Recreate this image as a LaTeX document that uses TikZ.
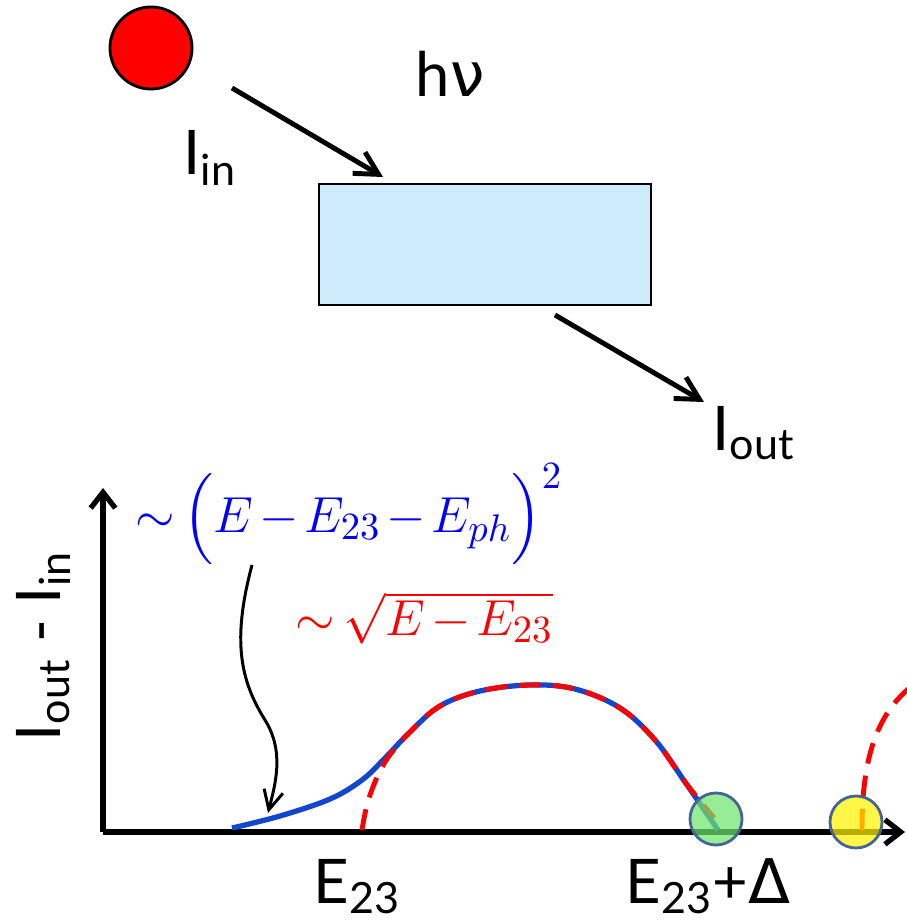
\documentclass[tikz,border=0pt]{standalone}
\usepackage{amsmath}
\usepackage{fontspec}
\setmainfont{Lato}
\newfontfamily\grk{DejaVu Sans}
\usetikzlibrary{positioning, calc, arrows.meta}
\definecolor{boxblue}{RGB}{204,236,252}
\definecolor{rimblue}{RGB}{70,100,150}
\definecolor{curveblue}{RGB}{20,70,205}
\definecolor{spotgreen}{RGB}{110,230,110}
\newcommand{\tight}{\medmuskip=2mu\relax\thickmuskip=3mu\relax}
\tikzset{
  beam/.style={line width=1.4pt, -{Straight Barb[length=6.5pt,width=7pt]}},
  axis/.style={line width=1.5pt, -{Straight Barb[length=4.5pt,width=7pt]}},
  lbl/.style={font=\fontsize{17.5}{20}\selectfont, inner sep=0pt, anchor=base west},
  law/.style={font=\fontsize{15}{18}\selectfont, inner sep=0pt, anchor=base west},
  spot/.style={circle, draw=rimblue, line width=0.8pt, fill opacity=0.72, minimum size=0.52cm, inner sep=0pt},
}
\begin{document}
\begin{tikzpicture}[x=0.01cm, y=-0.01cm]
    \useasboundingbox (0,0) rectangle (907,922);
    %sorgente e campione
    \node[circle, draw, line width=0.8pt, fill=red, minimum size=0.82cm, inner sep=0pt] (src) at (151,48) {};
    \node[draw, line width=0.6pt, fill=boxblue, minimum width=3.32cm, minimum height=1.21cm, inner sep=0pt] (sample) at (485,244.5) {};
    %fasci
    \coordinate (inA) at (232,88);
    \coordinate (inB) at (383,177);
    \coordinate (outA) at (555,315);
    \coordinate (outB) at (704,402);
    \draw[beam] (inA) -- (inB);
    \draw[beam] (outA) -- (outB);
    %etichette in alto
    \node[lbl] (hv) at (415,97) {h{\grk ν}};
    \node[lbl] (Iin) at (183,175) {I$_\text{in}$};
    \node[lbl] (Iout) at (712,450) {I$_\text{out}$};
    %assi
    \coordinate (O) at (103,832);
    \coordinate (xtip) at (905,832);
    \coordinate (ytip) at (103,488);
    \draw[axis] (O) -- (xtip);
    \draw[axis] (O) -- (ytip);
    \node[lbl, rotate=90] (ylab) at (60,742) {I$_\text{out}$ - I$_\text{in}$};
    \node[lbl] (E23) at (313,903) {E$_\text{23}$};
    \node[lbl] (E23D) at (625,903) {E$_\text{23}$+{\grk Δ}};
    %curve
    \draw[curveblue, line width=1.5pt] plot[smooth, tension=0.6] coordinates {(232,828) (280,816) (330,799) (362,780) (385,758) (410,732) (440,706) (480,691) (530,685) (575,689) (620,708) (655,740) (685,782) (718,830)};
    \draw[red, line width=1.4pt, dash pattern=on 6pt off 3.5pt] plot[smooth, tension=0.6] coordinates {(362,830) (369,798) (385,762) (410,732) (440,706) (480,691) (530,685) (575,689) (620,708) (655,740) (685,782) (714,818)};
    \draw[red, line width=1.4pt, dash pattern=on 6pt off 3.5pt] (862,830) .. controls (862,780) and (868,720) .. (912,686);
    %formule
    \node[law, text=blue] (lawBlue) at (135,532) {$\tight\sim\Bigl(E-E_{23}-E_{ph}\Bigr)^{2}$};
    \node[law, text=red] (lawRed) at (295,635) {$\tight\sim\sqrt{E-E_{23}}$};
    \coordinate (wigA) at (252,565);
    \coordinate (wigB) at (268,813);
    \draw[line width=0.85pt, -{Straight Barb[length=5.5pt,width=5.5pt]}] (wigA) .. controls (232,640) and (240,680) .. (265,720) .. controls (285,752) and (275,785) .. (wigB);
    %punti
    \node[spot, fill=spotgreen] (gap1) at (716,819) {};
    \node[spot, fill=yellow] (gap2) at (856,822) {};
\end{tikzpicture}
\end{document}
